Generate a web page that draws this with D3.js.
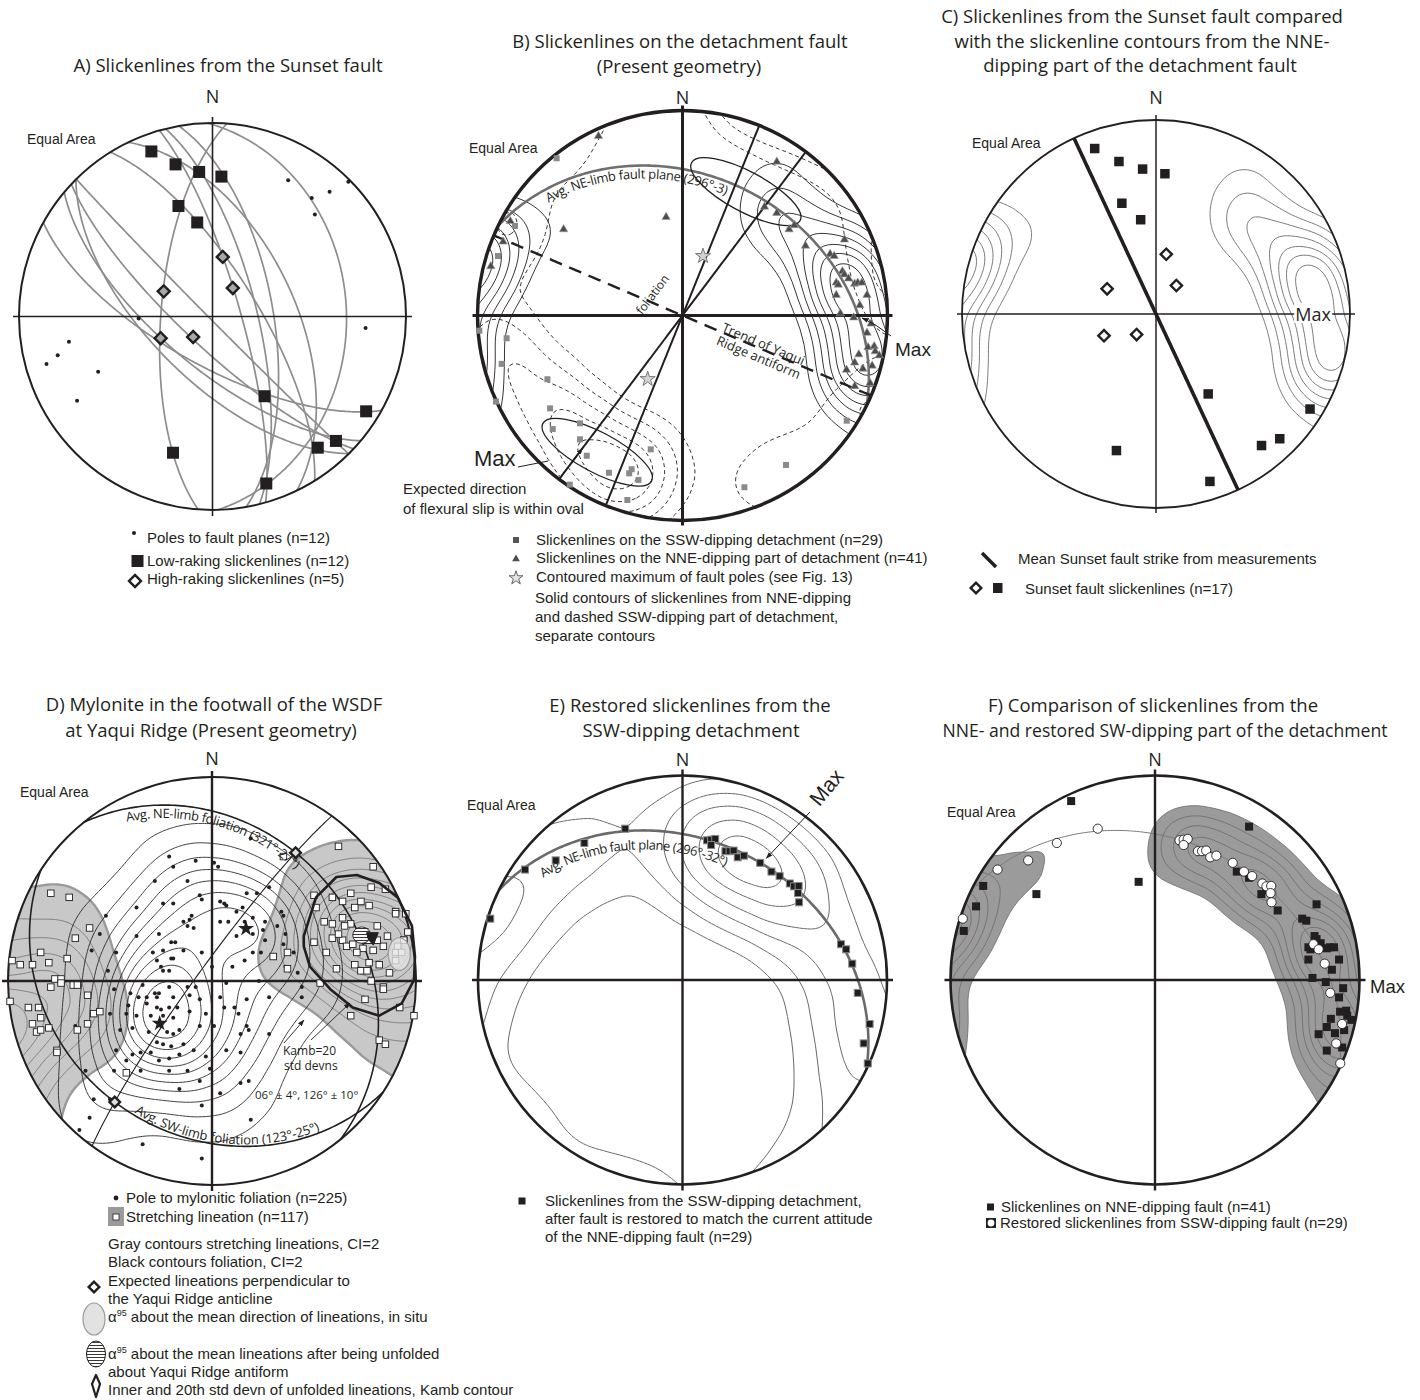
<!DOCTYPE html>
<html>
<head>
<meta charset="utf-8">
<title>Slickenline and mylonite stereonets</title>
<script src="https://cdn.jsdelivr.net/npm/d3@7"></script>
<style>
  html, body { margin: 0; padding: 0; background: #fff; }
  svg { display: block; }
  .title { font-family: 'Open Sans', 'Noto Sans', sans-serif; font-size: 18.5px; fill: #231f20; text-anchor: middle; }
  .north { font-family: 'Open Sans', 'Noto Sans', sans-serif; font-size: 18px; fill: #231f20; text-anchor: middle; }
  .ea { font-family: 'Liberation Sans', Arial, sans-serif; font-size: 14px; fill: #231f20; }
  .leg { font-family: 'Liberation Sans', Arial, sans-serif; font-size: 15px; fill: #231f20; }
  .anno { font-family: 'Open Sans', 'Noto Sans', sans-serif; font-size: 13px; fill: #231f20; }
  .max { font-family: 'Liberation Sans', Arial, sans-serif; fill: #231f20; }
</style>
</head>
<body>
<svg id="fig" width="1420" height="1400" xmlns="http://www.w3.org/2000/svg"></svg>
<script>
// ---------------------------------------------------------------
// Data. Point data are equal-area net coordinates [east, north],
// in units of the primitive radius (lower hemisphere).
// Planes are strike/dip (right-hand rule), lines trend/plunge.
// ---------------------------------------------------------------

// Sunset fault (panels A and C)
const sunsetPoles = [
  [0.391, 0.704], [0.513, 0.612], [0.605, 0.645], [0.702, 0.696], [0.529, 0.527], [0.791, -0.059],
  [-0.382, -0.010], [-0.742, -0.131], [-0.800, -0.200], [-0.858, -0.245], [-0.591, -0.286], [-0.700, -0.435]
];
const sunsetLowRake = [
  [-0.316, 0.853], [-0.191, 0.786], [-0.069, 0.747], [0.046, 0.723], [-0.176, 0.571], [-0.079, 0.486],
  [0.269, -0.412], [0.794, -0.490], [0.638, -0.643], [0.544, -0.678], [-0.204, -0.704], [0.278, -0.863]
];
const sunsetHighRake = [
  [0.053, 0.308], [0.105, 0.147], [-0.252, 0.130], [-0.268, -0.112], [-0.100, -0.106]
];
const sunsetMeanStrike = { strike: 335, dip: 90 };

// Detachment fault slickenlines (panels B, C, E, F)
const detachNNE = [
  [-0.41, 0.875], [0.46, 0.75], [-0.08, 0.48], [-0.58, 0.42], [-0.84, 0.46], [-0.875, 0.36], [-0.935, 0.24],
  [0.40, 0.53], [0.46, 0.50], [0.52, 0.42], [0.545, 0.44], [0.60, 0.34],
  [0.79, 0.37], [0.72, 0.30], [0.74, 0.29], [0.78, 0.215], [0.79, 0.20], [0.75, 0.16], [0.76, 0.15], [0.81, 0.18],
  [0.84, 0.155], [0.855, 0.16], [0.875, 0.16], [0.75, 0.10], [0.90, 0.10], [0.865, 0.05], [0.77, 0.01], [0.835, -0.01],
  [0.92, -0.04], [0.90, -0.085], [0.905, -0.155], [0.935, -0.15], [0.94, -0.175], [0.96, -0.195], [0.84, -0.23],
  [0.80, -0.265], [0.88, -0.26], [0.86, -0.19], [0.84, -0.345], [0.925, -0.245], [0.915, -0.33]
];
const detachSSW = [
  [-0.614, 0.767], [-0.817, 0.437], [-0.90, 0.29], [-0.991, -0.074], [-0.858, -0.111], [-0.882, -0.236],
  [-0.91, -0.42], [-0.659, -0.311], [-0.646, -0.453], [-0.633, -0.554], [-0.50, -0.526], [-0.50, -0.604],
  [-0.467, -0.684], [-0.359, -0.767], [-0.26, -0.77], [-0.248, -0.75], [-0.215, -0.802], [-0.155, -0.653],
  [-0.55, -0.825], [-0.269, -0.90], [0.302, -0.838], [0.505, -0.729], [0.801, -0.513]
];
const restoredSSW = [
  [-0.28, 0.74], [-0.48, 0.67], [-0.62, 0.585], [-0.77, 0.54], [-0.94, 0.30],
  [0.12, 0.683], [0.14, 0.686], [0.16, 0.69], [0.14, 0.66],
  [0.21, 0.63], [0.23, 0.63], [0.25, 0.633], [0.27, 0.60], [0.30, 0.608],
  [0.38, 0.573], [0.435, 0.53], [0.475, 0.508], [0.525, 0.472], [0.545, 0.458], [0.568, 0.46],
  [0.565, 0.425], [0.57, 0.38], [0.775, 0.175], [0.80, 0.15], [0.83, 0.08], [0.857, -0.063],
  [0.915, -0.215], [0.886, -0.31], [0.906, -0.408]
];
const faultPoleMaxima = [[0.10, 0.29], [-0.17, -0.31]];
const neLimbFaultPlane = { strike: 296, dip: 32 };
const verticalTraces = [{ strike: 37, dip: 90 }, { strike: 22, dip: 90 }];
const yaquiAntiformTrend = { strike: 113, dip: 90 };
const slipOvals = [
  { c: [0.309, 0.604], a: 0.30, b: 0.098, rot: 28 },
  { c: [-0.416, -0.667], a: 0.30, b: 0.098, rot: 28 }
];

// Mylonite at Yaqui Ridge (panel D)
const foliationPoles = [
  [0.19,0.70],[-0.21,0.61],[-0.08,0.59],[0.01,0.58],[0.03,0.56],[-0.19,0.56],[-0.28,0.49],[-0.12,0.49],[0.28,0.46],
  [-0.06,0.42],[-0.05,0.40],[-0.24,0.38],[-0.19,0.38],[0.04,0.39],[0.06,0.38],[0.07,0.37],[0.17,0.43],[0.22,0.43],
  [-0.52,0.32],[-0.37,0.36],[0.12,0.34],[0.15,0.36],[-0.10,0.32],[-0.11,0.30],[-0.14,0.29],[-0.12,0.27],[-0.09,0.26],
  [0.04,0.29],[0.08,0.29],[0.16,0.29],[0.20,0.31],[0.26,0.29],[0.35,0.32],[-0.26,0.23],[0.16,0.25],[0.12,0.22],
  [0.20,0.23],[0.25,0.25],[0.26,0.20],[0.32,0.27],[0.35,0.18],[-0.37,0.22],[-0.20,0.19],[-0.18,0.19],[-0.24,0.15],
  [-0.14,0.15],[-0.29,0.14],[-0.05,0.14],[-0.59,0.15],[0.24,0.14],[-0.20,0.11],[-0.19,0.11],[-0.27,0.10],[-0.25,0.07],
  [-0.24,0.05],[-0.21,0.05],[0.00,0.07],[0.10,0.07],[0.16,0.10],[0.20,0.14],[-0.51,0.05],[-0.34,-0.02],[-0.48,-0.04],
  [-0.40,-0.06],[-0.36,-0.08],[-0.28,-0.06],[-0.26,-0.06],[-0.21,-0.03],[-0.12,-0.03],[-0.08,-0.03],[0.07,-0.01],
  [0.23,0.00],[0.53,-0.01],[-0.32,-0.08],[-0.27,-0.08],[-0.19,-0.08],[-0.11,-0.07],[-0.06,-0.09],[-0.41,-0.12],
  [-0.32,-0.11],[-0.27,-0.13],[-0.25,-0.14],[-0.21,-0.13],[-0.17,-0.13],[0.04,-0.08],[0.06,-0.13],[0.17,-0.09],
  [0.28,-0.08],[0.44,-0.08],[-0.42,-0.16],[-0.37,-0.17],[-0.30,-0.17],[-0.24,-0.17],[-0.19,-0.18],[-0.11,-0.15],
  [-0.03,-0.16],[0.13,-0.16],[0.17,-0.22],[0.11,-0.13],[-0.50,-0.16],[-0.45,-0.24],[-0.39,-0.23],[-0.31,-0.25],
  [-0.25,-0.22],[-0.22,-0.25],[-0.19,-0.26],[-0.16,-0.24],[-0.06,-0.22],[0.01,-0.22],[0.14,-0.26],[0.18,-0.24],
  [0.28,-0.26],[-0.27,-0.30],[-0.24,-0.31],[-0.20,-0.32],[-0.14,-0.31],[0.07,-0.34],[-0.47,-0.34],[-0.39,-0.36],
  [-0.35,-0.35],[-0.30,-0.35],[-0.42,-0.39],[-0.26,-0.39],[-0.21,-0.38],[-0.16,-0.36],[-0.09,-0.34],[-0.03,-0.37],
  [0.14,-0.35],[-0.62,-0.44],[-0.48,-0.44],[-0.35,-0.44],[-0.21,-0.44],[-0.12,-0.44],[-0.06,-0.49],[-0.01,-0.43],
  [0.14,-0.50],[0.18,-0.49],[-0.58,-0.58],[-0.50,-0.58],[-0.05,-0.61],[-0.16,-0.53],[0.04,-0.55],[0.19,-0.68],
  [-0.60,-0.67],[-0.65,-0.73],[-0.34,-0.80],[-0.05,-0.87],[0.34,0.34],[0.36,0.23],[0.40,0.14],[0.42,0.04],
  [0.44,-0.03],[0.36,0.07],[-0.67,-0.22],[-0.47,0.14],[-0.55,0.23]
];
const stretchingLineations = [
  [-0.79,0.43],[-0.70,0.41],[-0.60,0.26],[-0.84,0.14],[-0.98,0.10],[-0.94,0.08],[-0.88,0.08],[-0.80,0.09],
  [-0.71,0.11],[-0.67,0.21],[-0.77,0.01],[-0.74,0.01],[-0.74,-0.01],[-0.68,-0.02],[-0.66,-0.02],[-0.79,-0.03],
  [-0.61,-0.07],[-0.99,-0.10],[-0.90,-0.13],[-0.85,-0.13],[-0.84,-0.18],[-0.88,-0.21],[-0.61,-0.21],[-0.58,-0.16],
  [-0.55,-0.15],[-0.80,-0.23],[-0.86,-0.25],[-0.84,-0.24],[-0.66,-0.24],[-0.76,-0.34],[-0.76,-0.35],[-0.42,-0.45],
  [0.35,0.61],[0.62,0.66],[0.79,0.56],[0.78,0.46],[0.85,0.45],[0.50,0.42],[0.64,0.39],[0.70,0.36],[0.73,0.39],
  [0.77,0.37],[0.90,0.34],[0.90,0.33],[0.95,0.33],[0.55,0.29],[0.59,0.28],[0.64,0.31],[0.68,0.28],[0.65,0.27],
  [0.72,0.24],[0.75,0.24],[0.76,0.20],[0.77,0.20],[0.59,0.21],[0.64,0.20],[0.50,0.19],[0.66,0.17],[0.69,0.18],
  [0.74,0.16],[0.79,0.15],[0.84,0.17],[0.90,0.14],[0.96,0.24],[0.94,0.20],[0.30,0.12],[0.37,0.14],[0.37,0.06],
  [0.61,0.06],[0.70,0.08],[0.73,0.05],[0.76,0.05],[0.82,0.08],[0.77,0.09],[0.53,-0.01],[0.78,0.00],[0.84,-0.03],
  [0.84,-0.04],[0.75,-0.09],[0.92,-0.13],[0.99,-0.17],[0.68,-0.17],[0.82,-0.29],[0.85,-0.31],[0.59,0.41],
  [0.51,0.36],[0.68,0.43],[0.62,0.23],[0.71,0.14],[0.81,0.27],[0.86,0.22],[0.81,0.20],[0.56,0.14],[0.87,0.04],
  [0.91,0.17],[0.93,0.14],[0.90,0.10],[0.94,0.20]
];
const neLimbFoliation = { strike: 321, dip: 27 };
const swLimbFoliation = { strike: 123, dip: 25 };
const foldAxis = { trend: 126, plunge: 6 };
const kamb20Unfolded = [
  [0.45,0.22],[0.51,0.41],[0.61,0.51],[0.71,0.52],[0.82,0.48],[0.91,0.41],[0.98,0.27],[0.995,0.12],
  [0.99,0.005],[0.93,-0.11],[0.82,-0.17],[0.69,-0.13],[0.58,-0.04],[0.48,0.07],[0.45,0.17]
];
const innerUnfolded = [[0.758,0.237],[0.815,0.237],[0.791,0.176],[0.766,0.204]];
const alphaInSitu = { c: [0.918, 0.132], rx: 0.054, ry: 0.08 };
const alphaUnfolded = { c: [0.734, 0.225], rx: 0.044, ry: 0.04 };

// ---------------------------------------------------------------
// Spherical helpers (east, north, down unit vectors)
// ---------------------------------------------------------------
const D2R = Math.PI / 180, R2D = 180 / Math.PI;
function vec(trend, plunge) {
  const t = trend * D2R, p = plunge * D2R;
  return [Math.cos(p) * Math.sin(t), Math.cos(p) * Math.cos(t), Math.sin(p)];
}
function toLine(v) {
  let [e, n, d] = v;
  if (d < -1e-9) { e = -e; n = -n; d = -d; }
  const L = Math.hypot(e, n, d);
  return { trend: (Math.atan2(e, n) * R2D + 360) % 360, plunge: Math.asin(Math.max(-1, Math.min(1, d / L))) * R2D };
}
function cross(a, b) { return [a[1]*b[2]-a[2]*b[1], a[2]*b[0]-a[0]*b[2], a[0]*b[1]-a[1]*b[0]]; }
const geoOf = l => [180 - l.trend, l.plunge];
const poleOf = pl => ({ trend: (pl.strike + 270) % 360, plunge: 90 - pl.dip });
const planeOfPole = l => ({ strike: (l.trend + 90) % 360, dip: 90 - l.plunge });
function planeCoords(pl, reverse) {
  const s = vec(pl.strike, 0), dd = vec(pl.strike + 90, pl.dip);
  const pts = d3.range(0.02, 179.99, 1).concat([179.98]).map(a => {
    const c = Math.cos(a * D2R), si = Math.sin(a * D2R);
    return geoOf(toLine([c*s[0]+si*dd[0], c*s[1]+si*dd[1], c*s[2]+si*dd[2]]));
  });
  return reverse ? pts.reverse() : pts;
}

// ---------------------------------------------------------------
// Drawing scaffolding
// ---------------------------------------------------------------
const svg = d3.select("#fig");
const defs = svg.append("defs");
const INK = "#231f20";

defs.append("marker").attr("id", "arrow").attr("viewBox", "0 0 10 10")
  .attr("refX", 9).attr("refY", 5).attr("markerWidth", 7).attr("markerHeight", 7)
  .attr("markerUnits", "userSpaceOnUse").attr("orient", "auto")
  .append("path").attr("d", "M0,1.5L10,5L0,8.5Z").attr("fill", INK);
const hatch = defs.append("pattern").attr("id", "hatch").attr("patternUnits", "userSpaceOnUse")
  .attr("width", 4).attr("height", 3);
hatch.append("rect").attr("width", 4).attr("height", 3).attr("fill", "#fff");
hatch.append("line").attr("x1", 0).attr("x2", 4).attr("y1", 1.5).attr("y2", 1.5)
  .attr("stroke", INK).attr("stroke-width", 0.9);

function makeNet(id, cx, cy, r) {
  const x = d3.scaleLinear().domain([-1, 1]).range([cx - r, cx + r]);
  const y = d3.scaleLinear().domain([-1, 1]).range([cy + r, cy - r]);
  const proj = d3.geoAzimuthalEqualArea().rotate([0, -90]).scale(r / Math.SQRT2)
    .translate([cx, cy]).clipAngle(90).precision(0.2);
  defs.append("clipPath").attr("id", "clip-" + id)
    .append("circle").attr("cx", cx).attr("cy", cy).attr("r", r);
  const g = svg.append("g").attr("id", "net-" + id);
  return { id, cx, cy, r, x, y, proj, path: d3.geoPath(proj), g, clip: `url(#clip-${id})`,
           len: v => x(v) - x(0) };
}

function frame(n, rim, axis, ext) {
  const g = n.g.append("g");
  g.append("line").attr("x1", n.x(0)).attr("x2", n.x(0)).attr("y1", n.y(1) - ext).attr("y2", n.y(-1) + ext)
    .attr("stroke", INK).attr("stroke-width", axis);
  g.append("line").attr("y1", n.y(0)).attr("y2", n.y(0)).attr("x1", n.x(-1) - ext).attr("x2", n.x(1) + ext)
    .attr("stroke", INK).attr("stroke-width", axis);
  g.append("circle").attr("cx", n.cx).attr("cy", n.cy).attr("r", n.r)
    .attr("fill", "none").attr("stroke", INK).attr("stroke-width", rim);
}

// Text helper; a font-size given here wins over the class default.
function text(parent, x, y, s, cls, attrs) {
  const t = parent.append("text").attr("x", x).attr("y", y).attr("class", cls).text(s);
  if (attrs) Object.entries(attrs).forEach(([k, v]) => {
    if (k === "font-size") t.style("font-size", v + "px"); else t.attr(k, v);
  });
  return t;
}

function planePath(n, pl, style, reverse) {
  return n.g.append("path").attr("d", n.path({ type: "LineString", coordinates: planeCoords(pl, reverse) }))
    .attr("fill", "none").attr("stroke", style.stroke).attr("stroke-width", style.width)
    .attr("stroke-dasharray", style.dash || null);
}

let curveId = 0;
function curveLabel(n, pl, reverse, label, startNet, dy, size) {
  const id = "curve-" + (++curveId);
  const p = n.g.append("path").attr("id", id).attr("fill", "none").attr("stroke", "none")
    .attr("d", n.path({ type: "LineString", coordinates: planeCoords(pl, reverse) }));
  const node = p.node(), L = node.getTotalLength();
  const sx = n.x(startNet[0]), sy = n.y(startNet[1]);
  let best = 0, bd = Infinity;
  for (let s = 0; s <= L; s += 1) {
    const q = node.getPointAtLength(s), dd = (q.x - sx) ** 2 + (q.y - sy) ** 2;
    if (dd < bd) { bd = dd; best = s; }
  }
  n.g.append("text").attr("class", "anno").style("font-size", size + "px").attr("dy", dy)
    .append("textPath").attr("href", "#" + id).attr("startOffset", best).text(label);
}

// Kernel density contours; points near the primitive are mirrored to
// the antipodal side so contours wrap around the net as on a sphere.
function densityContours(n, pts, bw, cell, levels) {
  const pad = 110, S = Math.ceil(2 * (n.r + pad));
  const ox = n.cx - n.r - pad, oy = n.cy - n.r - pad;
  const all = [];
  pts.forEach(([e, nn]) => {
    all.push([e, nn]);
    const rho = Math.hypot(e, nn);
    if (rho > 0.4) { const k = -(2 - rho) / rho; all.push([e * k, nn * k]); }
  });
  const gen = d3.contourDensity().x(d => n.x(d[0]) - ox).y(d => n.y(d[1]) - oy)
    .size([S, S]).cellSize(cell).bandwidth(bw);
  let contours;
  if (typeof gen.contours === "function") {
    const c = gen.contours(all);
    contours = levels.map(f => c(f * c.max));
  } else {
    const probe = gen.thresholds(300)(all);
    const mx = d3.max(probe, d => d.value);
    contours = gen.thresholds(levels.map(f => f * mx))(all);
  }
  return { contours, ox, oy };
}
function drawContours(n, res, style) {
  const outer = n.g.append("g").attr("clip-path", n.clip);
  const inner = outer.append("g").attr("transform", `translate(${res.ox},${res.oy})`);
  const gp = d3.geoPath();
  inner.selectAll("path").data(res.contours).join("path").attr("d", gp)
    .attr("fill", (d, i) => (i === 0 && style.fill) ? style.fill : "none")
    .attr("stroke", (d, i) => (i === 0 && style.outerStroke) ? style.outerStroke : style.stroke)
    .attr("stroke-width", (d, i) => (i === 0 && style.outerWidth) ? style.outerWidth : style.width)
    .attr("stroke-dasharray", style.dash || null)
    .attr("stroke-linejoin", "round");
}

function squares(n, pts, size, fill, stroke, sw) {
  n.g.append("g").selectAll("rect").data(pts).join("rect")
    .attr("x", d => n.x(d[0]) - size / 2).attr("y", d => n.y(d[1]) - size / 2)
    .attr("width", size).attr("height", size)
    .attr("fill", fill).attr("stroke", stroke || "none").attr("stroke-width", sw || 0);
}
function diamonds(n, pts, side, fill, sw) {
  n.g.append("g").selectAll("rect").data(pts).join("rect")
    .attr("x", -side / 2).attr("y", -side / 2).attr("width", side).attr("height", side)
    .attr("transform", d => `translate(${n.x(d[0])},${n.y(d[1])}) rotate(45)`)
    .attr("fill", fill).attr("stroke", INK).attr("stroke-width", sw);
}
function dots(n, pts, r) {
  n.g.append("g").selectAll("circle").data(pts).join("circle")
    .attr("cx", d => n.x(d[0])).attr("cy", d => n.y(d[1])).attr("r", r).attr("fill", INK);
}
function diamondAt(parent, x, y, side, fill, sw) {
  parent.append("rect").attr("x", -side / 2).attr("y", -side / 2).attr("width", side).attr("height", side)
    .attr("transform", `translate(${x},${y}) rotate(45)`).attr("fill", fill).attr("stroke", INK).attr("stroke-width", sw);
}
function alphaText(parent, x, y, rest) {
  const t = text(parent, x, y, "", "leg");
  t.append("tspan").text("α");
  t.append("tspan").style("font-size", "9px").attr("dy", -6).text("95");
  t.append("tspan").attr("dy", 6).text(rest);
}

const legend = svg.append("g");

// ---------------------------------------------------------------
// A) Sunset fault
// ---------------------------------------------------------------
const A = makeNet("a", 212.5, 316.5, 193.5);
text(svg, 228, 72, "A) Slickenlines from the Sunset fault", "title");
text(svg, A.cx, 103, "N", "north");
text(svg, 27, 144, "Equal Area", "ea");
sunsetPoles.forEach(p => {
  const g = A.proj.invert([A.x(p[0]), A.y(p[1])]);
  const pole = { trend: (180 - g[0] + 360) % 360, plunge: g[1] };
  planePath(A, planeOfPole(pole), { stroke: "#8d8d8d", width: 1.7 });
});
frame(A, 2, 1.6, 6);
dots(A, sunsetPoles, 2);
squares(A, sunsetLowRake, 12, INK);
diamonds(A, sunsetHighRake, 8.5, "#a8a8a8", 2.4);

legend.append("circle").attr("cx", 134).attr("cy", 533).attr("r", 2).attr("fill", INK);
text(legend, 147, 543, "Poles to fault planes (n=12)", "leg");
legend.append("rect").attr("x", 131.5).attr("y", 555).attr("width", 12).attr("height", 12).attr("fill", INK);
text(legend, 147, 566, "Low-raking slickenlines (n=12)", "leg");
diamondAt(legend, 135, 581, 8.5, "#fff", 2.4);
text(legend, 147, 584, "High-raking slickenlines (n=5)", "leg");

// ---------------------------------------------------------------
// B) Detachment fault, present geometry
// ---------------------------------------------------------------
const B = makeNet("b", 682.5, 315.5, 205);
text(svg, 680, 48, "B) Slickenlines on the detachment fault", "title");
text(svg, 679, 73, "(Present geometry)", "title");
text(svg, B.cx, 104, "N", "north");
text(svg, 469, 153, "Equal Area", "ea");

const nneLevels = [0.12, 0.22, 0.33, 0.45, 0.58, 0.71, 0.85];
const nneB = densityContours(B, detachNNE, 25, 5, nneLevels);
drawContours(B, nneB, { stroke: INK, width: 0.9 });
const sswB = densityContours(B, detachSSW, 30, 5, [0.2, 0.36, 0.53, 0.7, 0.87]);
drawContours(B, sswB, { stroke: INK, width: 0.9, dash: "4,3" });

planePath(B, neLimbFaultPlane, { stroke: "#6f6f6f", width: 2.6 });
curveLabel(B, neLimbFaultPlane, false, "Avg. NE-limb fault plane (296°-3)", [-0.66, 0.56], 13, 13);

slipOvals.forEach(o => {
  B.g.append("ellipse").attr("cx", B.x(o.c[0])).attr("cy", B.y(o.c[1]))
    .attr("rx", B.len(o.a)).attr("ry", B.len(o.b))
    .attr("transform", `rotate(${o.rot},${B.x(o.c[0])},${B.y(o.c[1])})`)
    .attr("fill", "none").attr("stroke", INK).attr("stroke-width", 1.3);
});
verticalTraces.forEach(pl => planePath(B, pl, { stroke: INK, width: 2 }));
planePath(B, yaquiAntiformTrend, { stroke: INK, width: 2.4, dash: "13,8" });
frame(B, 3.4, 3, 5);

// slip direction arrow on the SW trace
{
  const t = verticalTraces[0].strike + 180;
  const p0 = B.proj(geoOf({ trend: t, plunge: 90 - 2 * Math.asin(0.9 / Math.SQRT2) * R2D }));
  const p1 = B.proj(geoOf({ trend: t, plunge: 90 - 2 * Math.asin(0.81 / Math.SQRT2) * R2D }));
  B.g.append("line").attr("x1", p0[0]).attr("y1", p0[1]).attr("x2", p1[0]).attr("y2", p1[1])
    .attr("stroke", INK).attr("stroke-width", 1.5).attr("marker-end", "url(#arrow)");
}

squares(B, detachSSW, 6, "#8a8a8a");
B.g.append("g").selectAll("path").data(detachNNE).join("path")
  .attr("d", d3.symbol(d3.symbolTriangle, 30))
  .attr("transform", d => `translate(${B.x(d[0])},${B.y(d[1])})`)
  .attr("fill", "#4d4d4d").attr("stroke", "#9a9a9a").attr("stroke-width", 0.6);
B.g.append("g").selectAll("path").data(faultPoleMaxima).join("path")
  .attr("d", d3.symbol(d3.symbolStar, 70))
  .attr("transform", d => `translate(${B.x(d[0])},${B.y(d[1])})`)
  .attr("fill", "#d4d4d4").attr("stroke", "#6a6a6a").attr("stroke-width", 0.9);

text(B.g, B.x(-0.13), B.y(0.09), "foliation", "anno",
  { "text-anchor": "middle", transform: `rotate(-53,${B.x(-0.13)},${B.y(0.09)})`, "font-size": 12 });
text(B.g, B.x(0.386), B.y(-0.16), "Trend of Yaqui", "anno",
  { "text-anchor": "middle", transform: `rotate(23,${B.x(0.386)},${B.y(-0.16)})` });
text(B.g, B.x(0.362), B.y(-0.225), "Ridge antiform", "anno",
  { "text-anchor": "middle", transform: `rotate(23,${B.x(0.362)},${B.y(-0.225)})` });

text(B.g, 474, 466, "Max", "max", { "font-size": 22 });
B.g.append("line").attr("x1", 518).attr("y1", 467).attr("x2", B.x(-0.656)).attr("y2", B.y(-0.71))
  .attr("stroke", INK).attr("stroke-width", 1);
text(B.g, 895, 356, "Max", "max", { "font-size": 19 });
B.g.append("path").attr("d", `M891,336 Q876,324 ${B.x(0.876)},${B.y(-0.012)}`)
  .attr("fill", "none").attr("stroke", INK).attr("stroke-width", 1).attr("marker-end", "url(#arrow)");
text(svg, 403, 494, "Expected direction", "leg");
text(svg, 403, 514, "of flexural slip is within oval", "leg");

legend.append("rect").attr("x", 513).attr("y", 537).attr("width", 6).attr("height", 6).attr("fill", "#555");
text(legend, 536, 545, "Slickenlines on the SSW-dipping detachment (n=29)", "leg");
legend.append("path").attr("d", d3.symbol(d3.symbolTriangle, 26)).attr("transform", "translate(516,559)").attr("fill", "#4d4d4d");
text(legend, 536, 563, "Slickenlines on the NNE-dipping part of detachment (n=41)", "leg");
legend.append("path").attr("d", d3.symbol(d3.symbolStar, 60)).attr("transform", "translate(516,578)")
  .attr("fill", "#e6e6e6").attr("stroke", "#555").attr("stroke-width", 0.9);
text(legend, 536, 582, "Contoured maximum of fault poles (see Fig. 13)", "leg");
text(legend, 535, 603, "Solid contours of slickenlines from NNE-dipping", "leg");
text(legend, 535, 622, "and dashed SSW-dipping part of detachment,", "leg");
text(legend, 535, 641, "separate contours", "leg");

// ---------------------------------------------------------------
// C) Sunset fault vs NNE slickenline contours
// ---------------------------------------------------------------
const C = makeNet("c", 1156, 314, 194);
text(svg, 1142, 23, "C) Slickenlines from the Sunset fault compared", "title");
text(svg, 1142, 48, "with the slickenline contours from the NNE-", "title");
text(svg, 1140, 72, "dipping part of the detachment fault", "title");
text(svg, C.cx, 104, "N", "north");
text(svg, 972, 148, "Equal Area", "ea");
const nneC = densityContours(C, detachNNE, 24, 5, nneLevels);
drawContours(C, nneC, { stroke: "#5a5a5a", width: 0.8 });
planePath(C, sunsetMeanStrike, { stroke: INK, width: 3.6 });
frame(C, 1.8, 1.5, 5);
squares(C, sunsetLowRake, 9.5, INK);
diamonds(C, sunsetHighRake, 8, "#fff", 2.4);
{
  const mx = C.x(0.81), my = C.cy;
  C.g.append("rect").attr("x", mx - 19).attr("y", my - 11).attr("width", 38).attr("height", 20).attr("fill", "#fff");
  text(C.g, mx, my + 6.5, "Max", "north", { "font-size": 18 });
}
legend.append("line").attr("x1", 982).attr("y1", 553).attr("x2", 996).attr("y2", 567)
  .attr("stroke", INK).attr("stroke-width", 3.6);
text(legend, 1018, 564, "Mean Sunset fault strike from measurements", "leg");
diamondAt(legend, 976, 588, 7.5, "#fff", 2.4);
legend.append("rect").attr("x", 993).attr("y", 583).attr("width", 9.5).attr("height", 10).attr("fill", INK);
text(legend, 1025, 594, "Sunset fault slickenlines (n=17)", "leg");

// ---------------------------------------------------------------
// D) Mylonite at Yaqui Ridge
// ---------------------------------------------------------------
const Dn = makeNet("d", 212, 981, 204);
text(svg, 214, 711, "D) Mylonite in the footwall of the WSDF", "title");
text(svg, 211, 737, "at Yaqui Ridge (Present geometry)", "title");
text(svg, Dn.cx, 765, "N", "north");
text(svg, 20, 797, "Equal Area", "ea");

const tenLevels = [0.08, 0.17, 0.26, 0.35, 0.44, 0.53, 0.62, 0.71, 0.8, 0.9];
const linD = densityContours(Dn, stretchingLineations, 25, 6, tenLevels);
drawContours(Dn, linD, { fill: "#c8c8c8", outerStroke: "#9a9a9a", outerWidth: 2.4, stroke: "#7a7a7a", width: 0.9 });
const folD = densityContours(Dn, foliationPoles, 29, 6, tenLevels);
drawContours(Dn, folD, { stroke: INK, width: 0.85 });

planePath(Dn, neLimbFoliation, { stroke: INK, width: 1.6 });
planePath(Dn, swLimbFoliation, { stroke: INK, width: 1.6 });
planePath(Dn, planeOfPole(foldAxis), { stroke: INK, width: 1.1 });
frame(Dn, 2, 2.4, 6);
dots(Dn, foliationPoles, 2);
squares(Dn, stretchingLineations, 6.5, "#fff", INK, 0.9);

Dn.g.append("path").attr("d", d3.line().x(d => Dn.x(d[0])).y(d => Dn.y(d[1])).curve(d3.curveLinearClosed)(kamb20Unfolded))
  .attr("fill", "none").attr("stroke", INK).attr("stroke-width", 2.6).attr("stroke-linejoin", "round");
Dn.g.append("ellipse").attr("cx", Dn.x(alphaInSitu.c[0])).attr("cy", Dn.y(alphaInSitu.c[1]))
  .attr("rx", Dn.len(alphaInSitu.rx)).attr("ry", Dn.len(alphaInSitu.ry))
  .attr("fill", "#e2e2e2").attr("fill-opacity", 0.8).attr("stroke", "#9a9a9a").attr("stroke-width", 1.2);
Dn.g.append("ellipse").attr("cx", Dn.x(alphaUnfolded.c[0])).attr("cy", Dn.y(alphaUnfolded.c[1]))
  .attr("rx", Dn.len(alphaUnfolded.rx)).attr("ry", Dn.len(alphaUnfolded.ry))
  .attr("fill", "url(#hatch)").attr("stroke", INK).attr("stroke-width", 0.9);
Dn.g.append("path").attr("d", d3.line().x(d => Dn.x(d[0])).y(d => Dn.y(d[1])).curve(d3.curveLinearClosed)(innerUnfolded))
  .attr("fill", INK).attr("stroke", INK).attr("stroke-width", 1);

// limb poles and the lineations expected normal to the fold axis
const limbPoles = [poleOf(neLimbFoliation), poleOf(swLimbFoliation)];
Dn.g.append("g").selectAll("path").data(limbPoles).join("path")
  .attr("d", d3.symbol(d3.symbolStar, 80))
  .attr("transform", l => { const p = Dn.proj(geoOf(l)); return `translate(${p[0]},${p[1]})`; })
  .attr("fill", INK);
const axisVec = vec(foldAxis.trend, foldAxis.plunge);
const expectedLin = limbPoles.map(l => toLine(cross(vec(l.trend, l.plunge), axisVec)));
expectedLin.forEach(l => { const p = Dn.proj(geoOf(l)); diamondAt(Dn.g, p[0], p[1], 7.5, "#e0e0e0", 2.4); });

curveLabel(Dn, neLimbFoliation, false, "Avg. NE-limb foliation (321°-27°)", [-0.43, 0.84], 13, 13);
curveLabel(Dn, swLimbFoliation, true, "Avg. SW-limb foliation (123°-25°)", [-0.38, -0.645], -2, 13);
text(Dn.g, 283, 1055, "Kamb=20", "anno", { "font-size": 12 });
text(Dn.g, 284, 1070, "std devns", "anno", { "font-size": 12 });
Dn.g.append("line").attr("x1", 284).attr("y1", 1043).attr("x2", 304).attr("y2", 1020)
  .attr("stroke", INK).attr("stroke-width", 0.9).attr("marker-end", "url(#arrow)");
Dn.g.append("line").attr("x1", 311).attr("y1", 1040).attr("x2", 350).attr("y2", 1003)
  .attr("stroke", INK).attr("stroke-width", 0.9).attr("marker-end", "url(#arrow)");
text(Dn.g, 255, 1099, `0${foldAxis.plunge}° ± 4°, ${foldAxis.trend}° ± 10°`, "anno", { "font-size": 11.5 });

legend.append("circle").attr("cx", 116).attr("cy", 1198).attr("r", 2.4).attr("fill", INK);
text(legend, 126, 1203, "Pole to mylonitic foliation (n=225)", "leg");
legend.append("rect").attr("x", 108).attr("y", 1207).attr("width", 16).attr("height", 19).attr("fill", "#9a9a9a");
legend.append("rect").attr("x", 113).attr("y", 1214).attr("width", 6).attr("height", 6).attr("fill", "#fff").attr("stroke", INK).attr("stroke-width", 0.8);
text(legend, 126, 1222, "Stretching lineation (n=117)", "leg");
text(legend, 108, 1249, "Gray contours stretching lineations, CI=2", "leg");
text(legend, 108, 1267, "Black contours foliation, CI=2", "leg");
diamondAt(legend, 94, 1287, 7.5, "#fff", 2.4);
text(legend, 108, 1286, "Expected lineations perpendicular to", "leg");
text(legend, 108, 1304, "the Yaqui Ridge anticline", "leg");
legend.append("ellipse").attr("cx", 94).attr("cy", 1319).attr("rx", 11).attr("ry", 16)
  .attr("fill", "#e2e2e2").attr("stroke", "#9a9a9a").attr("stroke-width", 1.2);
alphaText(legend, 108, 1322, " about the mean direction of lineations, in situ");
legend.append("ellipse").attr("cx", 96).attr("cy", 1354).attr("rx", 9.5).attr("ry", 13)
  .attr("fill", "url(#hatch)").attr("stroke", INK).attr("stroke-width", 1);
alphaText(legend, 108, 1359, " about the mean lineations after being unfolded");
text(legend, 108, 1377, "about Yaqui Ridge antiform", "leg");
legend.append("path").attr("d", "M96,1375 L100,1384 L96,1397 L92,1384 Z").attr("fill", "#fff")
  .attr("stroke", INK).attr("stroke-width", 2.2).attr("stroke-linejoin", "round");
text(legend, 108, 1395, "Inner and 20th std devn of unfolded lineations, Kamb contour", "leg");

// ---------------------------------------------------------------
// E) Restored SSW slickenlines
// ---------------------------------------------------------------
const E = makeNet("e", 682.5, 980, 204.5);
text(svg, 690, 712, "E) Restored slickenlines from the", "title");
text(svg, 691, 737, "SSW-dipping detachment", "title");
text(svg, E.cx, 766, "N", "north");
text(svg, 467, 810, "Equal Area", "ea");
const resE = densityContours(E, restoredSSW, 36, 7, [0.07, 0.18, 0.33, 0.5, 0.7, 0.88]);
drawContours(E, resE, { stroke: "#6a6a6a", width: 1 });
planePath(E, neLimbFaultPlane, { stroke: "#6a6a6a", width: 2.6 });
frame(E, 2.6, 2.4, 6);
squares(E, restoredSSW, 7, "#1e1e1e", "#8a8a8a", 1);
curveLabel(E, neLimbFaultPlane, false, "Avg. NE-limb fault plane (296°-32°)", [-0.68, 0.50], 19, 13);
{
  const cx = 832, cy = 792;
  text(E.g, cx, cy, "Max", "max", { "font-size": 21, "text-anchor": "middle", transform: `rotate(-50,${cx},${cy})` });
  E.g.append("line").attr("x1", 810).attr("y1", 812).attr("x2", E.x(0.41)).attr("y2", E.y(0.595))
    .attr("stroke", INK).attr("stroke-width", 1).attr("marker-end", "url(#arrow)");
}
legend.append("rect").attr("x", 518.5).attr("y", 1197.5).attr("width", 7).attr("height", 7).attr("fill", INK);
text(legend, 545, 1206, "Slickenlines from the SSW-dipping detachment,", "leg");
text(legend, 545, 1224, "after fault is restored to match the current attitude", "leg");
text(legend, 545, 1242, "of the NNE-dipping fault (n=29)", "leg");

// ---------------------------------------------------------------
// F) NNE vs restored SSW slickenlines
// ---------------------------------------------------------------
const F = makeNet("f", 1155, 980, 204.5);
text(svg, 1153, 712, "F) Comparison of slickenlines from the", "title");
text(svg, 1165, 737, "NNE- and restored SW-dipping part of the detachment", "title", { "font-size": 17.6 });
text(svg, F.cx, 766, "N", "north");
text(svg, 947, 817, "Equal Area", "ea");
const combF = densityContours(F, detachNNE.concat(restoredSSW), 22, 6, [0.145, 0.26, 0.39, 0.52, 0.66, 0.8]);
drawContours(F, combF, { fill: "#9b9b9b", stroke: "#6c6c6c", width: 0.8 });
planePath(F, neLimbFaultPlane, { stroke: "#7a7a7a", width: 1 });
frame(F, 2.6, 2.4, 6);
squares(F, detachNNE, 8, INK);
F.g.append("g").selectAll("circle").data(restoredSSW).join("circle")
  .attr("cx", d => F.x(d[0])).attr("cy", d => F.y(d[1])).attr("r", 4.6)
  .attr("fill", "#fff").attr("stroke", INK).attr("stroke-width", 0.9);
text(F.g, 1370, 993, "Max", "max", { "font-size": 18.5 });
legend.append("rect").attr("x", 987).attr("y", 1203.5).attr("width", 7).attr("height", 7).attr("fill", INK);
text(legend, 1001, 1212, "Slickenlines on NNE-dipping fault (n=41)", "leg");
legend.append("rect").attr("x", 986).attr("y", 1218).attr("width", 10).attr("height", 10).attr("fill", INK);
legend.append("circle").attr("cx", 991).attr("cy", 1223).attr("r", 3.4).attr("fill", "#fff");
text(legend, 1000, 1228, "Restored slickenlines from SSW-dipping fault (n=29)", "leg");
</script>
</body>
</html>
